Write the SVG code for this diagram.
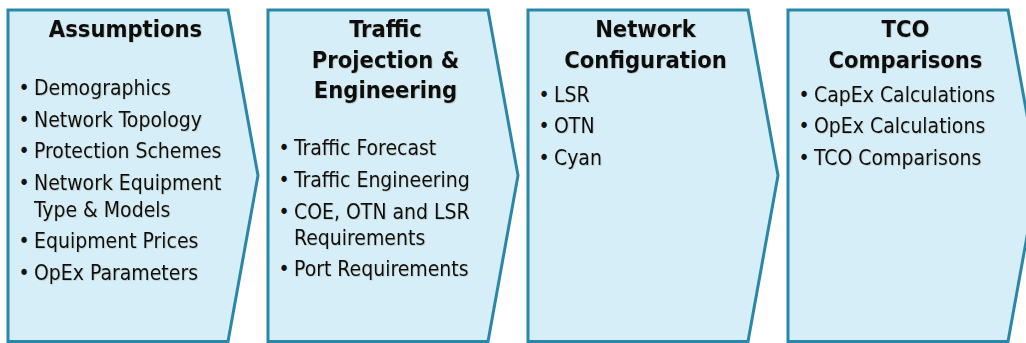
<svg xmlns="http://www.w3.org/2000/svg" width="1026" height="343" viewBox="0 0 1026 343">
  <defs>
    <!-- faint grey halo behind the lettering -->
    <filter id="txtShadow" x="-5%" y="-20%" width="110%" height="140%">
      <feDropShadow dx="0.7" dy="0.7" stdDeviation="0.35" flood-color="#6b5a3a" flood-opacity="0.3"/>
    </filter>
    <!-- chevron step: 220 wide body, 30 px point -->
    <path id="chevron" d="M0,10 H220 L250,175.5 L220,341.5 H0 Z"/>
  </defs>
  <style>
    .step { fill: #D5EEF8; stroke: #2A87A8; stroke-width: 3; stroke-linejoin: miter; }
    text { font-family: 'DejaVu Sans Condensed', 'DejaVu Sans', sans-serif; font-stretch: condensed; fill: #111; }
    .title { font-size: 23.5px; font-weight: bold; text-anchor: middle; filter: url(#txtShadow); }
    .item { font-size: 21px; filter: url(#txtShadow); }
    .dot { font-size: 21px; text-anchor: middle; }
  </style>
  <rect width="1026" height="343" fill="#ffffff"/>

  <!-- Step 1 -->
  <g id="assumptions" transform="translate(8,0)">
    <use href="#chevron" class="step"/>
    <text class="title" x="117.5" y="37">Assumptions</text>
    <text class="dot" x="16" y="95">•</text>
    <text class="item" x="26" y="95">Demographics</text>
    <text class="dot" x="16" y="126.5">•</text>
    <text class="item" x="26" y="126.5">Network Topology</text>
    <text class="dot" x="16" y="158">•</text>
    <text class="item" x="26" y="158">Protection Schemes</text>
    <text class="dot" x="16" y="190">•</text>
    <text class="item" x="26" y="190">Network Equipment</text>
    <text class="item" x="26" y="217">Type &amp; Models</text>
    <text class="dot" x="16" y="248">•</text>
    <text class="item" x="26" y="248">Equipment Prices</text>
    <text class="dot" x="16" y="279.5">•</text>
    <text class="item" x="26" y="279.5">OpEx Parameters</text>
  </g>

  <!-- Step 2 -->
  <g id="traffic-projection" transform="translate(268,0)">
    <use href="#chevron" class="step"/>
    <text class="title" x="117.5" y="37">Traffic</text>
    <text class="title" x="117.5" y="67.5">Projection &amp;</text>
    <text class="title" x="117.5" y="97.5">Engineering</text>
    <text class="dot" x="16" y="155">•</text>
    <text class="item" x="26" y="155">Traffic Forecast</text>
    <text class="dot" x="16" y="186.5">•</text>
    <text class="item" x="26" y="186.5">Traffic Engineering</text>
    <text class="dot" x="16" y="218.5">•</text>
    <text class="item" x="26" y="218.5">COE, OTN and LSR</text>
    <text class="item" x="26" y="244.5">Requirements</text>
    <text class="dot" x="16" y="276">•</text>
    <text class="item" x="26" y="276">Port Requirements</text>
  </g>

  <!-- Step 3 -->
  <g id="network-configuration" transform="translate(528,0)">
    <use href="#chevron" class="step"/>
    <text class="title" x="117.5" y="37">Network</text>
    <text class="title" x="117.5" y="68">Configuration</text>
    <text class="dot" x="16" y="101.5">•</text>
    <text class="item" x="26" y="101.5">LSR</text>
    <text class="dot" x="16" y="133">•</text>
    <text class="item" x="26" y="133">OTN</text>
    <text class="dot" x="16" y="164.5">•</text>
    <text class="item" x="26" y="164.5">Cyan</text>
  </g>

  <!-- Step 4 -->
  <g id="tco-comparisons" transform="translate(788,0)">
    <use href="#chevron" class="step"/>
    <text class="title" x="117.5" y="37">TCO</text>
    <text class="title" x="117.5" y="68">Comparisons</text>
    <text class="dot" x="16" y="101.5">•</text>
    <text class="item" x="26" y="101.5">CapEx Calculations</text>
    <text class="dot" x="16" y="133">•</text>
    <text class="item" x="26" y="133">OpEx Calculations</text>
    <text class="dot" x="16" y="165">•</text>
    <text class="item" x="26" y="165">TCO Comparisons</text>
  </g>
</svg>
